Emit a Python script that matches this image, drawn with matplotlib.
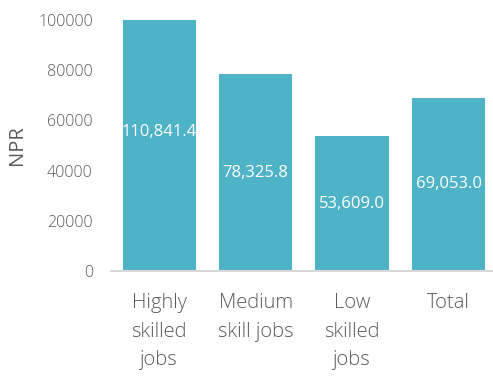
import matplotlib.pyplot as plt
import numpy as np

categories = ["Highly\nskilled\njobs", "Medium\nskill jobs", "Low\nskilled\njobs", "Total"]
values = [110841.4, 78325.8, 53609.0, 69053.0]
yticks = [0, 20000, 40000, 60000, 80000, 100000]

plt.rcParams['font.family'] = ['Open Sans', 'DejaVu Sans']
plt.rcParams['font.weight'] = 'light'

fig = plt.figure(figsize=(4.93, 3.76), dpi=100)
ax = fig.add_axes([0.225, 0.279, 0.773, 0.668])

x = np.arange(len(categories))
ax.bar(x, values, width=0.76, color='#4FB3C8', zorder=2)
for xi, v in zip(x, values):
    ax.text(xi, v / 2, f"{v:,.1f}", ha='center', va='center',
            color='white', fontsize=12, fontweight='normal')

ax.set_ylim(0, 100000)
ax.set_xlim(-0.5, 3.45)
ax.set_yticks(yticks)
ax.set_yticklabels([str(t) for t in yticks])
ax.set_xticks(x)
ax.set_xticklabels(categories, linespacing=1.55)

for s in ['top', 'right', 'left']:
    ax.spines[s].set_visible(False)
ax.spines['bottom'].set_color('#D9D9D9')
ax.spines['bottom'].set_linewidth(1.5)
ax.tick_params(axis='y', length=0, pad=13, labelsize=11.5, labelcolor='#595959')
ax.tick_params(axis='x', length=0, pad=16, labelsize=14.5, labelcolor='#595959')
ax.set_ylabel("NPR", fontsize=14.5, color='#595959', labelpad=8)

fig.savefig("out.png", dpi=100)
